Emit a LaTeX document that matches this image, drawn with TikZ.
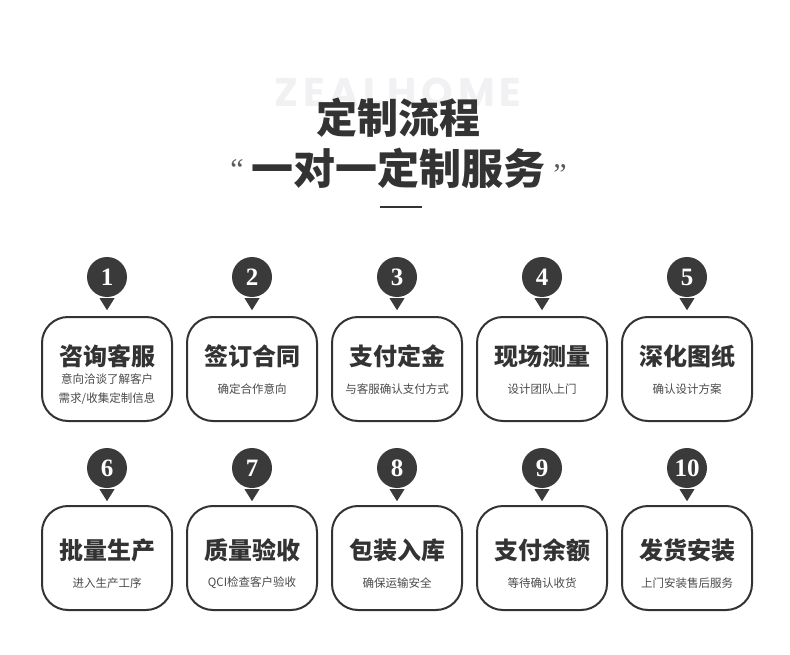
\documentclass[tikz,border=0pt]{standalone}
\usepackage{fontspec}
\setmainfont{Liberation Serif}
\newfontfamily\cjk{Noto Sans CJK SC}
\newfontfamily\wmfont{Poppins}[LetterSpace=12]
\usetikzlibrary{positioning}
\definecolor{ink}{HTML}{333333}
\definecolor{disc}{HTML}{3A3A3A}
\definecolor{note}{HTML}{4A4A4A}
\definecolor{mark}{HTML}{F1F1F3}

\begin{document}
\begin{tikzpicture}[x=1pt, y=-1pt,
    stepbox/.style={draw=ink, line width=2pt, rounded corners=26pt, minimum width=130pt, minimum height=104pt, inner sep=0pt},
    badge/.style={circle, fill=disc, minimum size=40pt, inner sep=0pt, text=white, font=\bfseries\fontsize{25}{25}\selectfont},
    steptitle/.style={text=ink, inner sep=0pt, font=\cjk\bfseries\fontsize{24}{26}\selectfont},
    stepnote/.style={text=note, inner sep=0pt, align=center, font=\cjk\fontsize{11.5}{19}\selectfont}]
    \useasboundingbox[fill=white] (0,0) rectangle (790,655);
    % header: watermark, title, motto and short rule
    \node[text=mark, font=\wmfont\bfseries\fontsize{40}{40}\selectfont] (wm) at (398,92) {ZEALHOME};
    \node[text=ink, font=\cjk\bfseries\fontsize{41}{41}\selectfont] (head) at (398,118) {定制流程};
    \node[text=ink, font=\cjk\bfseries\fontsize{42}{42}\selectfont] (motto) at (398,168) {一对一定制服务};
    \node[text=ink!80, font=\fontsize{30}{30}\selectfont] (lq) at (237,170) {“};
    \node[text=ink!80, font=\fontsize{30}{30}\selectfont] (rq) at (560,175) {”};
    \coordinate (ra) at (380,207);
    \coordinate (rb) at (422,207);
    \draw[ink, line width=2pt] (ra) -- (rb);
    % row 1
    \foreach \i/\t/\s in {1/咨询客服/{意向洽谈了解客户\\需求/收集定制信息}, 2/签订合同/确定合作意向,
        3/支付定金/与客服确认支付方式, 4/现场测量/设计团队上门, 5/深化图纸/确认设计方案} {
      \pgfmathsetmacro\xx{107+145*(\i-1)}
      \node[badge] (n\i) at (\xx,277) {\i};
      \fill[disc] (n\i.south) ++(-7.5,1) -- ++(15,0) -- ++(-7.5,12) -- cycle;
      \node[stepbox] (b\i) at (\xx,369) {};
      \node[steptitle] (t\i) at ([yshift=-40pt]b\i.north) {\t};
      \node[stepnote] (s\i) at ([yshift=-73pt]b\i.north) {\s};
    }
    % row 2
    \foreach \i/\t/\s in {6/批量生产/进入生产工序, 7/质量验收/QCI检查客户验收, 8/包装入库/确保运输安全,
        9/支付余额/等待确认收货, 10/发货安装/上门安装售后服务} {
      \pgfmathsetmacro\xx{107+145*(\i-6)}
      \node[badge] (n\i) at (\xx,468) {\i};
      \fill[disc] (n\i.south) ++(-7.5,1) -- ++(15,0) -- ++(-7.5,12) -- cycle;
      \node[stepbox] (b\i) at (\xx,558) {};
      \node[steptitle] (t\i) at ([yshift=-45pt]b\i.north) {\t};
      \node[stepnote] (s\i) at ([yshift=-78pt]b\i.north) {\s};
    }
\end{tikzpicture}
\end{document}
